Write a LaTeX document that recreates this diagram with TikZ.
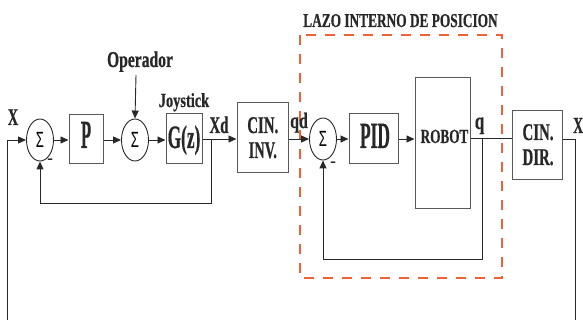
\documentclass[tikz,border=0pt]{standalone}
\usepackage{fontspec}
\setmainfont{Liberation Serif}[BoldFeatures={FakeBold=0.8}]
\newfontfamily\sigfont{Liberation Sans}
\usepackage{graphicx}
\usetikzlibrary{arrows.meta,shapes.geometric,calc}
\definecolor{loopred}{RGB}{238,98,54}
\definecolor{ink}{RGB}{40,40,40}
\newcommand{\lb}[3]{\scalebox{#1}[1]{\fontsize{#2}{#2}\selectfont\bfseries #3}}
\newcommand{\sig}{\scalebox{0.6}[1]{\sigfont\fontsize{22}{22}\selectfont\symbol{"03A3}}}
\begin{document}
\begin{tikzpicture}[x=1pt,y=-1pt,
  blk/.style={draw=black!65,line width=1pt,fill=white,inner sep=0pt},
  summer/.style={ellipse,draw=ink,line width=0.9pt,minimum width=27pt,minimum height=42pt,inner sep=0pt},
  lbl/.style={inner sep=0pt,anchor=base,text=ink},
  wire/.style={draw=ink,line width=0.9pt},
  arr/.style={wire,-{Triangle[length=8pt,width=7pt]}},
  loop/.style={draw=loopred,line width=1.1pt,dash pattern=on 10pt off 9pt}]
\useasboundingbox (0,0) rectangle (583,320);

% inner loop frame
\draw[loop] (300,35) rectangle (502,278);
\node[lbl] (title) at (400.5,27) {\lb{0.68}{19.6}{LAZO INTERNO DE POSICION}};

% summing junctions
\node[summer] (s1) at (40,140) {\sig};
\node[summer] (s2) at (135,140) {\sig};
\node[summer] (s3) at (323,139) {\sig};

% blocks
\node[blk,minimum width=34pt,minimum height=49pt] (P) at (86,139.5) {};
\node[blk,minimum width=36pt,minimum height=50pt] (G) at (184,139) {};
\node[blk,minimum width=51pt,minimum height=70pt] (CI) at (262.5,138) {};
\node[blk,minimum width=49pt,minimum height=50pt] (PID) at (373.5,139) {};
\node[blk,minimum width=55pt,minimum height=131pt] (R) at (442.5,143.5) {};
\node[blk,minimum width=50pt,minimum height=69pt] (CD) at (537,145.5) {};

% block texts
\node[lbl] (tP) at (86,148) {\lb{0.42}{40}{P}};
\node[lbl] (tG) at (184,148) {\lb{0.53}{32.6}{G(z)}};
\node[lbl] (tCI1) at (262.8,133) {\lb{0.62}{24}{CIN.}};
\node[lbl] (tCI2) at (262.8,158) {\lb{0.6}{24}{INV.}};
\node[lbl] (tPID) at (375,148) {\lb{0.47}{37}{PID}};
\node[lbl] (tR) at (444.5,143) {\lb{0.66}{20}{ROBOT}};
\node[lbl] (tCD1) at (538,140) {\lb{0.62}{24}{CIN.}};
\node[lbl] (tCD2) at (538,165) {\lb{0.62}{24}{DIR.}};

% signal labels
\node[lbl] (lop) at (140,67) {\lb{0.69}{22.6}{Operador}};
\node[lbl] (ljoy) at (184,107) {\lb{0.72}{20}{Joystick}};
\node[lbl] (lX) at (13,125) {\lb{0.6}{24}{X}};
\node[lbl] (lXd) at (219,133) {\lb{0.62}{24}{Xd}};
\node[lbl] (lqd) at (299,128) {\lb{0.72}{22}{qd}};
\node[lbl] (lq) at (479.5,129) {\lb{0.7}{24}{q}};
\node[lbl,anchor=base west] (lX2) at (573,133) {\lb{0.6}{23}{X}};
\node[lbl] (m1) at (50,163) {\lb{1}{16}{-}};
\node[lbl] (m3) at (333,166) {\lb{1}{16}{-}};

% coordinates for free ends and bends
\coordinate (in0) at (7,320);
\coordinate (op0) at (136,75);
\coordinate (fb1) at (211,139);
\coordinate (fb2) at (482,138);
\coordinate (out1) at (575,139);
\coordinate (out0) at (575,320);

% outer path
\draw[arr] (in0) |- (s1.west);
\draw[arr] (s1.east) -- (s1.east -| P.west);
\draw[arr] (P.east |- s2.west) -- (s2.west);
\draw[arr] (op0) -- (s2.north);
\draw[arr] (s2.east) -- (s2.east -| G.west);
\draw[arr] (G.east |- fb1) -- (fb1 -| CI.west);
\draw[arr] (fb1) -- ++(0,64) -| (s1.south);
\draw[arr] (CI.east |- s3.west) -- (s3.west);
\draw[arr] (s3.east) -- (s3.east -| PID.west);
\draw[arr] (PID.east) -- (PID.east -| R.west);
\draw[wire] (R.east |- fb2) -- (fb2 -| CD.west);
\draw[arr] (fb2) -- ++(0,121) -| (s3.south);
\draw[wire] (CD.east |- out1) -- (out1) -- (out0);
\end{tikzpicture}
\end{document}
